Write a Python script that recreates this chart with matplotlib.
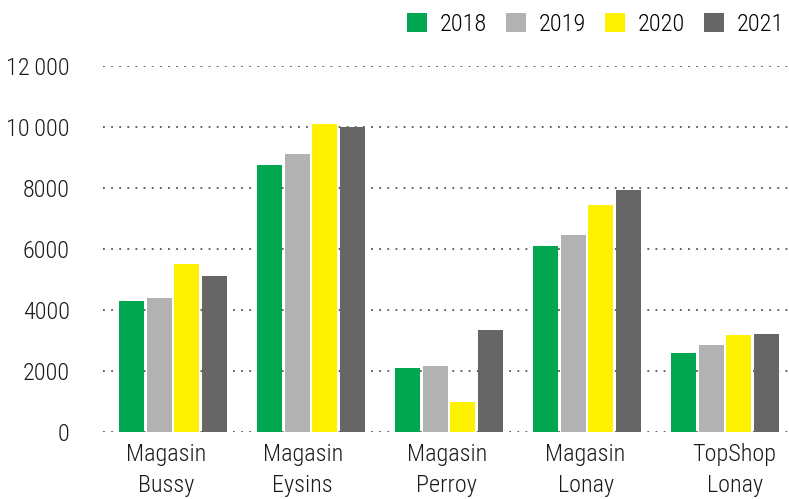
import matplotlib
matplotlib.use("Agg")
import matplotlib.pyplot as plt
import numpy as np
from matplotlib.patches import Patch

categories = ["Magasin\nBussy", "Magasin\nEysins", "Magasin\nPerroy", "Magasin\nLonay", "TopShop\nLonay"]
years = ["2018", "2019", "2020", "2021"]
v2018 = [4300, 8750, 2100, 6100, 2600]
v2019 = [4400, 9100, 2150, 6450, 2850]
v2020 = [5500, 10100, 1000, 7450, 3180]
v2021 = [5100, 10000, 3350, 7950, 3200]
yticks = [0, 2000, 4000, 6000, 8000, 10000, 12000]
ytick_labels = ["0", "2000", "4000", "6000", "8000", "10\u2009000", "12\u2009000"]
colors = ["#00A650", "#B2B2B2", "#FFF200", "#666666"]

plt.rcParams['font.family'] = ['Roboto Condensed', 'DejaVu Sans']
plt.rcParams['font.weight'] = 'light'

fig = plt.figure(figsize=(7.89, 4.99), dpi=100)
ax = fig.add_axes([103/789, 67/499, 686/789, 366/499])

series = [v2018, v2019, v2020, v2021]
x = np.arange(len(categories))
for i, (vals, c) in enumerate(zip(series, colors)):
    ax.bar(x + (i - 1.5) * 0.2, vals, width=0.181, color=c, label=years[i], zorder=3)

# label positions in the original are slightly off the group centres
label_shift = np.array([-0.05, -0.06, -0.015, -0.01, 0.07])

ax.set_xlim(-0.507, 4.464)
ax.set_ylim(0, 12000)
ax.set_yticks(yticks)
ax.set_yticklabels(ytick_labels, fontsize=17.5, color="#1a1a1a")
ax.set_xticks(x + label_shift)
ax.set_xticklabels(categories, fontsize=17.5, color="#1a1a1a", linespacing=1.42)
ax.tick_params(axis='y', length=0, pad=24)
ax.tick_params(axis='x', length=0, pad=8)
for s in ax.spines.values():
    s.set_visible(False)
ax.yaxis.grid(True, color="#555555", linestyle=(0, (1, 3.5)), linewidth=1.3, zorder=0)
ax.set_axisbelow(True)

handles = [Patch(facecolor=c, edgecolor='none') for c in colors]
fig.legend(handles, years, loc='upper right', bbox_to_anchor=(1.016, 1.008), ncol=4,
           frameon=False, fontsize=17.5, handlelength=0.8, handleheight=0.8,
           handletextpad=0.55, columnspacing=0.78, borderaxespad=0.3)

fig.savefig("out.png", dpi=100)
